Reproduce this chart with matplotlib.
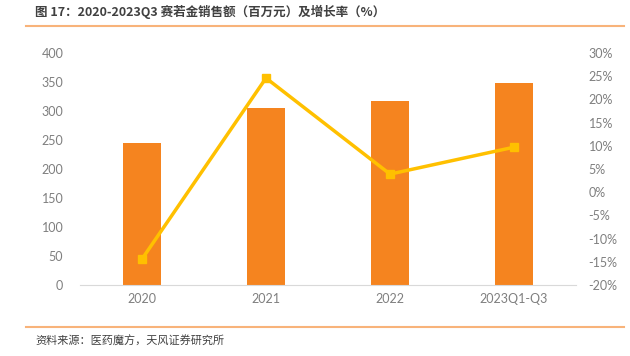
import matplotlib
matplotlib.use("Agg")
import matplotlib.pyplot as plt
from matplotlib.lines import Line2D

plt.rcParams['font.family'] = ['Noto Sans CJK SC', 'DejaVu Sans']

categories = ["2020", "2021", "2022", "2023Q1-Q3"]
sales = [245, 305, 317, 348]
growth = [-14.4, 24.6, 3.9, 9.7]
left_ticks = [0, 50, 100, 150, 200, 250, 300, 350, 400]
right_ticks = [-20, -15, -10, -5, 0, 5, 10, 15, 20, 25, 30]

title = "图 17：2020-2023Q3 赛若金销售额（百万元）及增长率（%）"
source = "资料来源：医药魔方，天风证券研究所"

bar_color = "#F5841F"
line_color = "#FFC000"
tick_color = "#7F7F7F"

fig = plt.figure(figsize=(6.3, 3.56), dpi=100)
ax = fig.add_axes([80/630, 1-285/356, 496/630, 232/356])
x = list(range(len(categories)))
ax.bar(x, sales, width=0.31, color=bar_color, zorder=2)
ax.set_xlim(-0.5, len(categories)-0.5)
ax.set_ylim(0, 400)
ax.set_yticks(left_ticks)
ax.set_xticks(x)
ax.set_xticklabels(categories)
for s in ["top", "right", "left"]:
    ax.spines[s].set_visible(False)
ax.spines["bottom"].set_color("#D9D9D9")
ax.tick_params(axis="both", length=0, colors=tick_color, labelsize=9)
ax.tick_params(axis="y", pad=12)
ax.tick_params(axis="x", pad=6)
for lab in ax.get_xticklabels() + ax.get_yticklabels():
    lab.set_family(["Lato", "DejaVu Sans"])

ax2 = ax.twinx()
ax2.plot(x, growth, color=line_color, lw=2.5, marker="s", ms=6, zorder=3)
ax2.set_ylim(-20, 30)
ax2.set_yticks(right_ticks)
ax2.set_yticklabels([f"{t}%" for t in right_ticks])
for s in ["top", "right", "left", "bottom"]:
    ax2.spines[s].set_visible(False)
ax2.tick_params(axis="y", length=0, colors=tick_color, labelsize=9, pad=9)
for lab in ax2.get_yticklabels():
    lab.set_family(["Lato", "DejaVu Sans"])

fig.text(35/630, 1-12/356, title, fontsize=9, fontweight="bold", color="#404040",
         va="center", ha="left")
fig.add_artist(Line2D([26/630, 624/630], [1-26/356, 1-26/356], color="#F8B37A", lw=1.5))
fig.add_artist(Line2D([26/630, 624/630], [1-327/356, 1-327/356], color="#F8B37A", lw=1.5))
fig.text(35/630, 1-341/356, source, fontsize=8, color="#404040", va="center", ha="left")

fig.savefig("out.png", dpi=100)
